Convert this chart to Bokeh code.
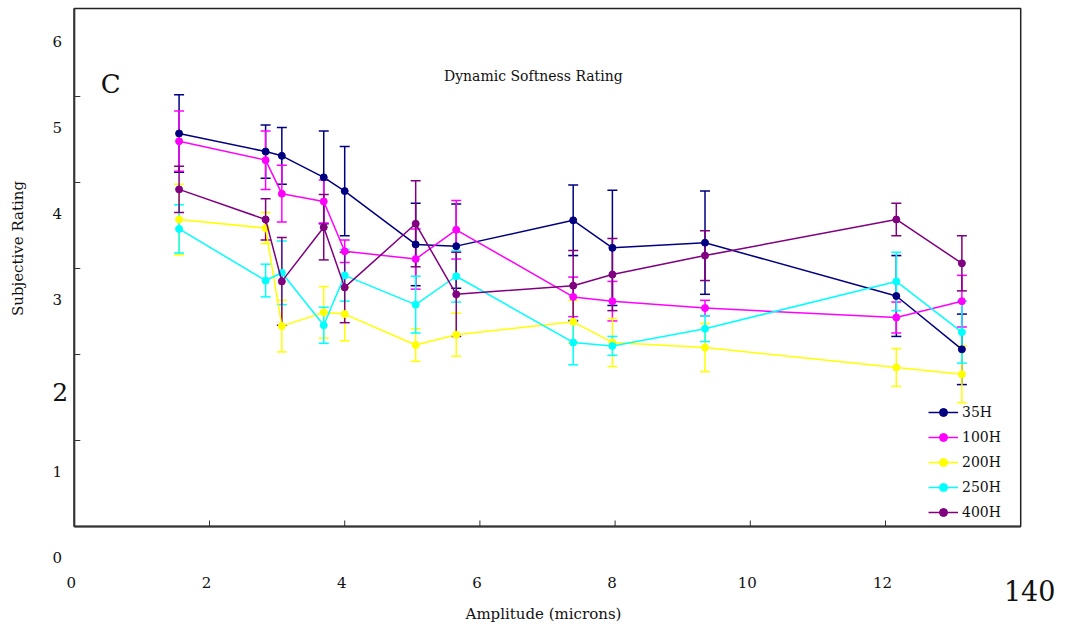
import math
from bokeh.plotting import figure
from bokeh.models import ColumnDataSource, Whisker, TeeHead, Range1d
from bokeh.core.properties import value
from bokeh.embed import file_html
from bokeh.resources import INLINE

# Vibration amplitude (microns) at which each rating was collected
amplitude = [1.55, 2.83, 3.07, 3.69, 4.0, 5.05, 5.65, 7.38, 7.96, 9.33, 12.16, 13.13]

# Mean subjective rating and error (+/-) for each frequency
r35 = [4.93, 4.72, 4.67, 4.42, 4.26, 3.64, 3.62, 3.92, 3.60, 3.66, 3.04, 2.42]
e35 = [0.45, 0.31, 0.33, 0.54, 0.52, 0.48, 0.49, 0.41, 0.67, 0.60, 0.47, 0.41]
r100 = [4.84, 4.62, 4.23, 4.14, 3.56, 3.47, 3.81, 3.03, 2.98, 2.90, 2.79, 2.98]
e100 = [0.35, 0.34, 0.33, 0.25, 0.13, 0.35, 0.34, 0.23, 0.23, 0.09, 0.18, 0.30]
r200 = [3.93, 3.83, 2.69, 2.85, 2.83, 2.47, 2.59, 2.74, 2.50, 2.44, 2.21, 2.13]
e200 = [0.41, 0.18, 0.30, 0.30, 0.31, 0.19, 0.25, 0.25, 0.28, 0.28, 0.22, 0.33]
r250 = [3.82, 3.22, 3.31, 2.70, 3.28, 2.94, 3.27, 2.50, 2.46, 2.66, 3.21, 2.62]
e250 = [0.28, 0.19, 0.37, 0.21, 0.30, 0.33, 0.30, 0.26, 0.11, 0.15, 0.34, 0.36]
r400 = [4.28, 3.93, 3.21, 3.84, 3.14, 3.88, 3.06, 3.16, 3.29, 3.51, 3.93, 3.42]
e400 = [0.27, 0.24, 0.51, 0.38, 0.41, 0.50, 0.49, 0.41, 0.42, 0.29, 0.19, 0.32]

series_names = ["35H", "100H", "200H", "250H", "400H"]
series_values = [r35, r100, r200, r250, r400]
series_errors = [e35, e100, e200, e250, e400]
series_colors = ["#000080", "#FF00FF", "#FFFF00", "#00FFFF", "#800080"]

x_tick_values = [0, 2, 4, 6, 8, 10, 12, 14]
x_tick_labels = ["0", "2", "4", "6", "8", "10", "12", "140"]
y_tick_values = [0, 1, 2, 3, 4, 5, 6]
y_tick_labels = ["0", "1", "2", "3", "4", "5", "6"]

FONT = "DejaVu Serif"
INK = "#111111"
W, H = 1065, 627

# Plot box in data units, and the pixel scale of each axis
X_MIN, X_MAX = 0.0, 14.0
Y_MIN, Y_MAX = 0.36, 6.384
PX_X = 67.6      # pixels per micron
PX_Y = 86.0      # pixels per rating step
LEFT_PX, BOTTOM_PX = 73.8, 101.0  # box position from the canvas left / bottom

x_start = X_MIN - LEFT_PX / PX_X
y_start = Y_MIN - BOTTOM_PX / PX_Y

p = figure(width=W, height=H, output_backend="svg", toolbar_location=None,
           x_axis_type=None, y_axis_type=None,
           x_range=Range1d(x_start, x_start + W / PX_X),
           y_range=Range1d(y_start, y_start + H / PX_Y),
           min_border=0)
p.background_fill_color = "white"
p.border_fill_color = "white"
p.outline_line_color = None
p.xgrid.visible = False
p.ygrid.visible = False

# Plot box with heavier left/bottom axis lines
p.quad(left=X_MIN, right=X_MAX, bottom=Y_MIN, top=Y_MAX,
       fill_color=None, line_color="#222222", line_width=1.5)
p.segment(x0=[X_MIN, X_MIN], y0=[Y_MIN, Y_MIN], x1=[X_MAX, X_MIN], y1=[Y_MIN, Y_MAX],
          line_color="#333333", line_width=2)

# Inward tick marks
tick_len = 6
xt = [2, 4, 6, 8, 10, 12]
p.segment(x0=xt, x1=xt, y0=[Y_MIN] * len(xt), y1=[Y_MIN + tick_len / PX_Y] * len(xt),
          line_color="#333333", line_width=1)
yt = [Y_MIN + k for k in range(1, 6)]
p.segment(x0=[X_MIN] * len(yt), x1=[X_MIN + tick_len / PX_X] * len(yt), y0=yt, y1=yt,
          line_color="#333333", line_width=1)

# Data series with error bars
for name, vals, errs, color in zip(series_names, series_values, series_errors, series_colors):
    src = ColumnDataSource(dict(
        x=amplitude, y=vals,
        lower=[v - e for v, e in zip(vals, errs)],
        upper=[v + e for v, e in zip(vals, errs)],
    ))
    p.add_layout(Whisker(source=src, base="x", lower="lower", upper="upper",
                         line_color=color, line_width=1.5,
                         upper_head=TeeHead(size=10, line_color=color, line_width=1.5),
                         lower_head=TeeHead(size=10, line_color=color, line_width=1.5)))
    p.line("x", "y", source=src, line_color=color, line_width=1.5, legend_label=name)
    p.scatter("x", "y", source=src, size=7, fill_color=color, line_color=color, legend_label=name)

# Y tick labels
y_small = [(v, t) for v, t in zip(y_tick_values, y_tick_labels) if t != "2"]
y_big = [(v, t) for v, t in zip(y_tick_values, y_tick_labels) if t == "2"]
p.text(x=[X_MIN] * len(y_small), y=[v for v, _ in y_small], text=[t for _, t in y_small],
       x_offset=-17, text_align="center", text_baseline="middle",
       text_font=value(FONT), text_font_size=value("15px"), text_color=INK)
p.text(x=[X_MIN] * len(y_big), y=[v for v, _ in y_big], text=[t for _, t in y_big],
       x_offset=-14, y_offset=7, text_align="center", text_baseline="middle",
       text_font=value(FONT), text_font_size=value("25px"), text_color=INK)

# X tick labels
x_small = [(v, t) for v, t in zip(x_tick_values, x_tick_labels) if t != "140"]
x_big = [(v, t) for v, t in zip(x_tick_values, x_tick_labels) if t == "140"]
p.text(x=[v for v, _ in x_small], y=[Y_MIN] * len(x_small), text=[t for _, t in x_small],
       x_offset=-3, y_offset=56, text_align="center", text_baseline="middle",
       text_font=value(FONT), text_font_size=value("15px"), text_color=INK)
p.text(x=[v for v, _ in x_big], y=[Y_MIN] * len(x_big), text=[t for _, t in x_big],
       x_offset=9, y_offset=64, text_align="center", text_baseline="middle",
       text_font=value(FONT), text_font_size=value("27px"), text_color=INK)

# Axis titles, chart title and panel letter
p.text(x=[(X_MIN + X_MAX) / 2], y=[Y_MIN], text=["Amplitude (microns)"], x_offset=-4, y_offset=87,
       text_align="center", text_baseline="middle",
       text_font=value(FONT), text_font_size=value("15px"), text_color=INK)
p.text(x=[X_MIN], y=[(Y_MIN + Y_MAX) / 2], text=["Subjective Rating"], x_offset=-56, y_offset=-19,
       angle=math.pi / 2, text_align="center", text_baseline="middle",
       text_font=value(FONT), text_font_size=value("15px"), text_color=INK)
p.text(x=[6.79], y=[5.6], text=["Dynamic Softness Rating"], text_align="center",
       text_baseline="middle", text_font=value(FONT), text_font_size=value("14px"), text_color=INK)
p.text(x=[0.54], y=[5.51], text=["C"], text_align="center", text_baseline="middle",
       text_font=value(FONT), text_font_size=value("26px"), text_color=INK)

p.legend.location = (928, 105)
p.legend.glyph_width = 30
p.legend.glyph_height = 20
p.legend.label_height = 20
p.legend.spacing = 5
p.legend.padding = 0
p.legend.margin = 0
p.legend.label_standoff = 4
p.legend.label_text_font = FONT
p.legend.label_text_font_size = "14px"
p.legend.label_text_color = INK
p.legend.border_line_alpha = 0
p.legend.background_fill_alpha = 0

open("out.html", "w").write(file_html(p, INLINE))
